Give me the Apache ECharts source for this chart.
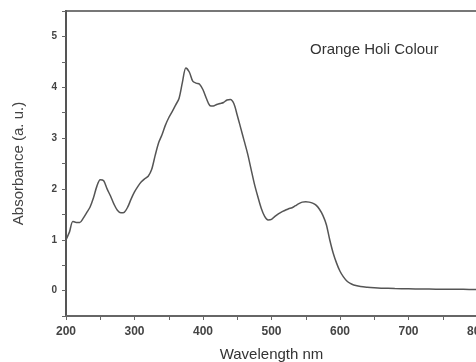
<!DOCTYPE html>
<html>
<head>
<meta charset="utf-8">
<script src="https://cdn.jsdelivr.net/npm/echarts@6/dist/echarts.min.js"></script>
<style>
  html, body { margin: 0; padding: 0; background: #fff; }
  #chart { width: 476px; height: 362px; }
</style>
</head>
<body>
<div id="chart"></div>
<script>
// wavelength (nm) and absorbance
var wavelength = [
  200, 205, 210, 215, 220, 225, 230, 235, 240, 245, 250, 255, 260, 265, 270, 275,
  280, 285, 290, 295, 300, 305, 310, 315, 320, 325, 330, 335, 340, 345, 350, 355,
  360, 365, 370, 375, 380, 385, 390, 395, 400, 405, 410, 415, 420, 425, 430, 435,
  440, 445, 450, 455, 460, 465, 470, 475, 480, 485, 490, 495, 500, 505, 510, 515,
  520, 525, 530, 535, 540, 545, 550, 555, 560, 565, 570, 575, 580, 585, 590, 595,
  600, 605, 610, 615, 620, 630, 640, 650, 660, 680, 700, 720, 740, 760, 780, 800
]
var absorbance = [
  1.00, 1.15, 1.36, 1.34, 1.34, 1.42, 1.53, 1.64, 1.82, 2.05, 2.18, 2.16, 2.00, 1.86, 1.70, 1.58,
  1.53, 1.54, 1.64, 1.80, 1.94, 2.05, 2.14, 2.20, 2.25, 2.38, 2.65, 2.90, 3.06, 3.25, 3.40, 3.52,
  3.65, 3.78, 4.10, 4.38, 4.30, 4.12, 4.08, 4.06, 3.95, 3.78, 3.64, 3.63, 3.66, 3.68, 3.70, 3.75,
  3.76, 3.68, 3.45, 3.20, 2.95, 2.70, 2.40, 2.10, 1.85, 1.62, 1.46, 1.39, 1.40, 1.46, 1.51, 1.55,
  1.58, 1.61, 1.63, 1.67, 1.71, 1.74, 1.75, 1.74, 1.72, 1.68, 1.60, 1.48, 1.30, 1.00, 0.74, 0.54,
  0.38, 0.27, 0.19, 0.14, 0.11, 0.08, 0.065, 0.055, 0.048, 0.04, 0.035, 0.03, 0.028, 0.025, 0.024, 0.022
]

var points = wavelength.map(function (w, i) { return [w, absorbance[i]] })

var myChart = echarts.init(document.getElementById('chart'))
myChart.setOption({
  backgroundColor: '#fff',
  animation: false,
  title: {
    text: 'Orange Holi Colour',
    left: 305,
    top: 37,
    textStyle: { fontSize: 15, fontWeight: 'normal', color: '#333', fontFamily: 'Liberation Sans' }
  },
  grid: {
    left: 66,
    top: 11,
    right: -1,
    bottom: 46,
    outerBoundsMode: 'none',
    show: true,
    borderColor: '#777',
    borderWidth: 2
  },
  xAxis: {
    type: 'value',
    min: 200,
    max: 800,
    interval: 50,
    name: 'Wavelength nm',
    nameLocation: 'middle',
    nameGap: 31,
    nameTextStyle: { fontSize: 15, color: '#333', fontFamily: 'Liberation Sans' },
    axisLine: { onZero: false, lineStyle: { color: '#666', width: 2 } },
    axisTick: { length: 4, lineStyle: { color: '#666' } },
    axisLabel: {
      margin: 10,
      fontSize: 12,
      fontWeight: 'bold',
      color: '#444',
      fontFamily: 'Liberation Sans',
      formatter: function (v) { return v % 100 === 0 ? v : '' }
    },
    splitLine: { show: false }
  },
  yAxis: {
    type: 'value',
    min: -0.5,
    max: 5.5,
    interval: 0.5,
    name: 'Absorbance (a. u.)',
    nameLocation: 'middle',
    nameGap: 40,
    nameTextStyle: { fontSize: 15, color: '#444', fontFamily: 'Liberation Sans' },
    axisLine: { show: true, onZero: false, lineStyle: { color: '#555', width: 2 } },
    axisTick: { show: true, length: 4, lineStyle: { color: '#666' } },
    axisLabel: {
      margin: 9,
      fontSize: 10,
      fontWeight: 'bold',
      color: '#444',
      fontFamily: 'Liberation Sans',
      formatter: function (v) { return Number.isInteger(v) ? v : '' }
    },
    splitLine: { show: false }
  },
  series: [
    {
      type: 'line',
      data: points,
      smooth: 0.3,
      showSymbol: false,
      lineStyle: { color: '#555', width: 1.5 }
    }
  ]
})
window.addEventListener('resize', function () {
  myChart.resize()
})
</script>
</body>
</html>
